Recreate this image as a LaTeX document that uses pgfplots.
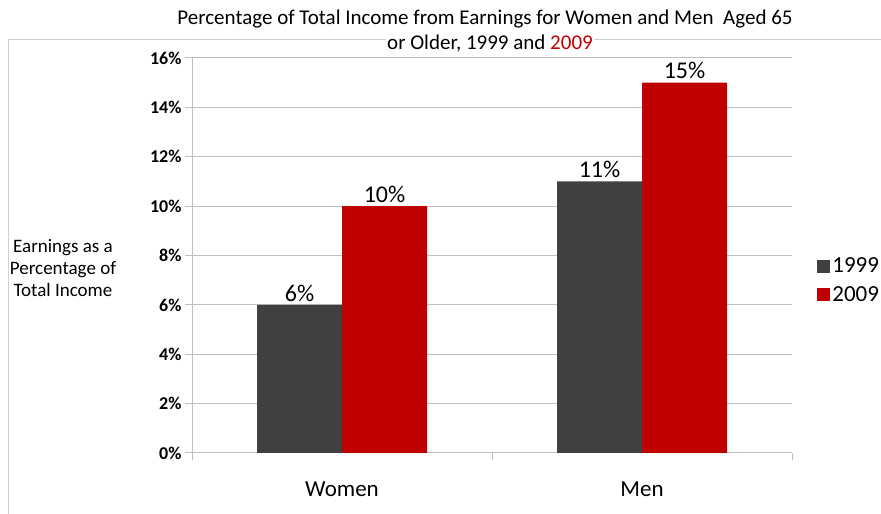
\documentclass[border=0pt]{standalone}
\usepackage{pgfplots}
\pgfplotsset{compat=1.18}
\usepackage{fontspec}
\setmainfont{Carlito}
\definecolor{darkbar}{HTML}{404040}
\definecolor{redbar}{HTML}{C00000}
\definecolor{gridgray}{HTML}{BFBFBF}
\definecolor{framegray}{HTML}{D0D0D0}
\begin{document}
\begin{tikzpicture}[x=1pt,y=1pt]
\useasboundingbox (0,0) rectangle (881,514);
\draw[framegray, line width=1pt] (8,-10) -- (8,474) -- (900,474);
% title
\node[anchor=base, font=\fontsize{21}{21}\selectfont, fill=white, inner sep=1pt] at (485,489)
  {Percentage of Total Income from Earnings for Women and Men\ \ Aged 65};
\node[anchor=base, font=\fontsize{21}{21}\selectfont, fill=white, inner sep=1pt] at (490,464)
  {or Older, 1999 and \textcolor{redbar}{2009}};
% y label
\node[align=center, font=\fontsize{19}{22}\selectfont] at (63,246)
  {Earnings as a\\Percentage of\\Total Income};
\begin{axis}[
    at={(192pt,61pt)}, anchor=south west,
    scale only axis, width=600pt, height=395pt,
    xmin=-0.5, xmax=1.5, ymin=0, ymax=16,
    ybar=0pt, bar width=85pt,
    xtick={0,1}, xticklabels={Women,Men},
    minor xtick={-0.5,0.5,1.5},
    ytick={0,2,...,16},
    yticklabel={\pgfmathprintnumber{\tick}\%},
    /pgf/number format/assume math mode=true,
    tick align=outside,
    major tick length=7pt, minor tick length=7pt,
    every tick/.style={gridgray, line width=1pt},
    major x tick style={draw=none},
    ymajorgrids, grid style={gridgray, line width=1pt},
    axis x line*=bottom, axis y line*=left,
    axis line style={gridgray, line width=1pt},
    y tick label style={font=\bfseries\fontsize{18}{18}\selectfont},
    x tick label style={font=\fontsize{23}{23}\selectfont, yshift=-18pt},
    nodes near coords={\pgfmathprintnumber{\pgfplotspointmeta}\%},
    nodes near coords style={font=\fontsize{24}{24}\selectfont, black},
    legend style={at={(rel axis cs:1.042,0.437)}, anchor=west, draw=none,
      inner sep=0pt, font=\fontsize{23}{23}\selectfont, row sep=8pt},
    legend cell align=left,
]
\addplot[fill=darkbar, draw=none,
  legend image code/.code={\fill[darkbar] (0pt,-6.5pt) rectangle (13pt,6.5pt);}]
  coordinates {(0,6) (1,11)};
\addplot[fill=redbar, draw=none,
  legend image code/.code={\fill[redbar] (0pt,-6.5pt) rectangle (13pt,6.5pt);}]
  coordinates {(0,10) (1,15)};
\legend{1999,2009}
\end{axis}
\end{tikzpicture}
\end{document}
